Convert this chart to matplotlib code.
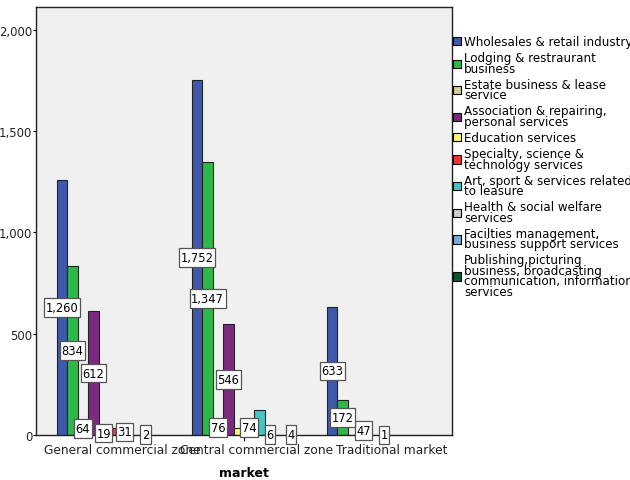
import matplotlib
matplotlib.use("Agg")
import matplotlib.pyplot as plt
from matplotlib.patches import Patch, Rectangle
from matplotlib.transforms import IdentityTransform, offset_copy
import numpy as np

plt.rcParams['font.family'] = ['DejaVu Sans']

categories = ["General commercial zone", "Central commercial zone", "Traditional market"]
series_names = [
    "Wholesales & retail industry",
    "Lodging & restraurant\nbusiness",
    "Estate business & lease\nservice",
    "Association & repairing,\npersonal services",
    "Education services",
    "Specialty, science &\ntechnology services",
    "Art, sport & services related\nto leasure",
    "Health & social welfare\nservices",
    "Facilties management,\nbusiness support services",
    "Publishing,picturing\nbusiness, broadcasting\ncommunication, information\nservices",
]
wholesale = [1260, 1752, 633]
lodging = [834, 1347, 172]
estate = [64, 76, 0]
association = [612, 546, 47]
education = [19, 35, 0]
specialty = [35, 74, 1]
art = [31, 124, 0]
health = [0, 6, 0]
facilities = [2, 0, 0]
publishing = [0, 4, 0]
series_values = [wholesale, lodging, estate, association, education,
                 specialty, art, health, facilities, publishing]
colors = ["#3E58AC", "#2EB848", "#D3CE97", "#7C2A80", "#FBF873",
          "#EF3338", "#48C3C5", "#CCCCCC", "#7AAAD5", "#0B5530"]
yticks = [0, 500, 1000, 1500, 2000]

W, H = 630, 481
fig = plt.figure(figsize=(W / 100, H / 100), dpi=100)
ax = fig.add_axes([36 / W, 45 / H, 416 / W, 428 / H])
ax.set_facecolor("#F0F0F0")

n = len(series_values)
bw = 0.077
x = np.arange(len(categories))
for i, (vals, c) in enumerate(zip(series_values, colors)):
    ax.bar(x + (i - (n - 1) / 2) * bw, vals, width=bw, color=c,
           edgecolor="#222222", linewidth=0.8, zorder=2)

ax.set_xlim(-0.54, 2.54)
ax.set_ylim(0, 2113)
ax.set_yticks(yticks)
ax.set_yticklabels([f"{v:,}" for v in yticks], fontsize=8.4, color="#222222")
ax.set_xticks(x)
ax.set_xticklabels([])
cat_trans = offset_copy(ax.get_xaxis_transform(), fig=fig, x=13, y=-8, units='dots')
for xi, name in zip(x, categories):
    ax.text(xi, 0, name, transform=cat_trans, ha='center', va='top',
            fontsize=8.8, color="#222222", clip_on=False)
ax.tick_params(axis='y', direction='out', length=2.5, width=0.8, pad=0.0)
ax.tick_params(axis='x', direction='out', length=4.5, width=0.8, pad=1.5)
for s in ax.spines.values():
    s.set_linewidth(1.0)
    s.set_color("#222222")
ax.set_xlabel("market", fontsize=9, fontweight='bold', labelpad=16.5)

# value labels, placed in reverse series order; hide those that would overlap
fig.canvas.draw()
renderer = fig.canvas.get_renderer()
tol = 2.0
padx, pady = 1.5, 2.8
for g in range(len(categories)):
    kept = []
    for i in reversed(range(n)):
        v = series_values[i][g]
        if v <= 0:
            continue
        t = ax.text(x[g] + (i - (n - 1) / 2) * bw, v / 2, f"{v:,}",
                    ha='center', va='center', fontsize=8.3, color="black",
                    zorder=6)
        bb = t.get_window_extent(renderer)
        x0, y0 = bb.x0 - padx, bb.y0 - pady
        x1, y1 = bb.x1 + padx, bb.y1 + pady
        cx0, cy0, cx1, cy1 = x0 + tol, y0 + tol, x1 - tol, y1 - tol
        clash = any(not (cx1 < k[0] or cx0 > k[2] or cy1 < k[1] or cy0 > k[3]) for k in kept)
        if clash:
            t.remove()
        else:
            kept.append((cx0, cy0, cx1, cy1))
            rect = Rectangle((x0, y0), x1 - x0, y1 - y0, transform=IdentityTransform(),
                             facecolor="white", edgecolor="#555555", linewidth=0.9,
                             zorder=5, clip_on=False)
            ax.add_artist(rect)

handles = [Patch(facecolor=c, edgecolor="black", linewidth=0.8) for c in colors]
leg = fig.legend(handles, series_names, loc='upper left',
                 bbox_to_anchor=(453 / W, (H - 36) / H), frameon=False,
                 fontsize=8.6, handlelength=0.68, handleheight=0.68,
                 handletextpad=0.25, labelspacing=0.26, borderaxespad=0,
                 borderpad=0)
for t in leg.get_texts():
    t.set_linespacing(0.75)

fig.savefig("out.png", dpi=100)
